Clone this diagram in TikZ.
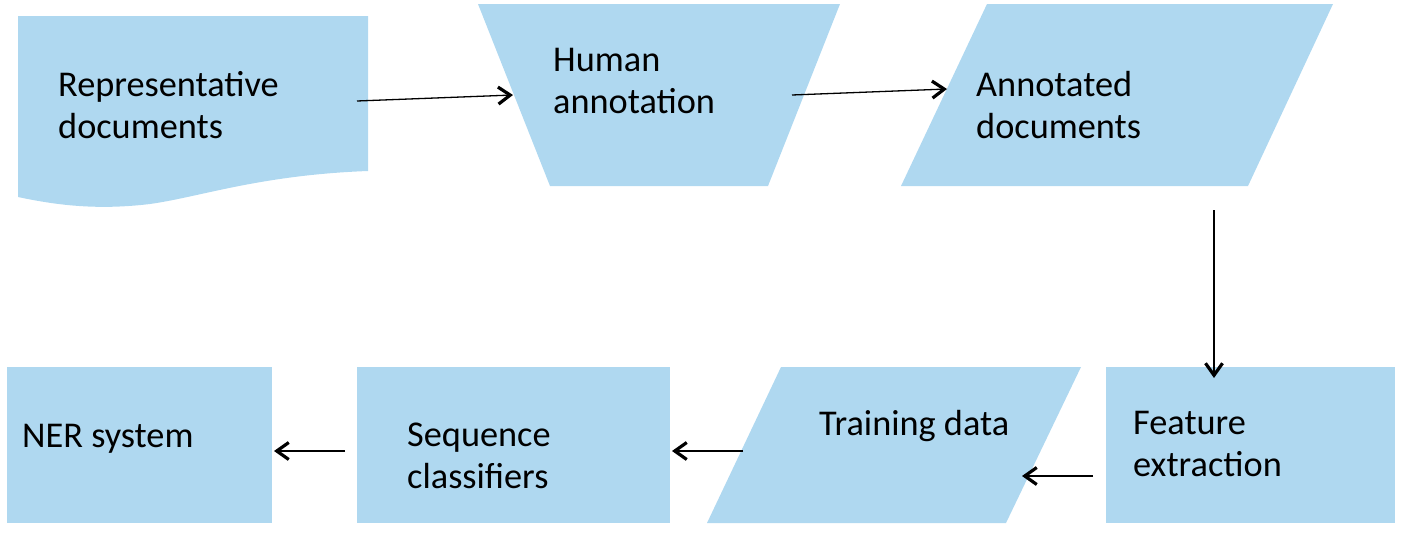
\documentclass[tikz,border=0pt]{standalone}
\usepackage{fontspec}
\setmainfont{Carlito}
\usetikzlibrary{arrows.meta}
\definecolor{boxblue}{RGB}{175,216,240}
\tikzset{
  shapefill/.style={fill=boxblue,draw=none},
  lbl/.style={inner sep=0pt,anchor=base west,align=left,font=\fontsize{36.3}{42}\selectfont},
  conn/.style={line width=1.3pt,-{Straight Barb[length=12pt,width=17pt,line width=3.2pt]}}
}
\begin{document}
\begin{tikzpicture}[x=1pt,y=-1pt]
\useasboundingbox (0,0) rectangle (1406,533);
% shapes
\fill[shapefill] (18,16) -- (368,16) -- (368,171) .. controls (260,175) and (200,197) .. (150,204) .. controls (100,210) and (60,206) .. (18,197) -- cycle;
\fill[shapefill] (478,4) -- (840,4) -- (768,186) -- (550,186) -- cycle;
\fill[shapefill] (987,4) -- (1333,4) -- (1248,186) -- (901,186) -- cycle;
\fill[shapefill] (1106,367) rectangle (1395,523);
\fill[shapefill] (781,367) -- (1081,367) -- (1006,523) -- (707,523) -- cycle;
\fill[shapefill] (357,367) rectangle (670,523);
\fill[shapefill] (7,367) rectangle (272,523);
% labels (base = baseline of last line)
\node[lbl] (rep) at (58,138) {Representative\\documents};
\node[lbl] (hum) at (553,113) {Human\\annotation};
\node[lbl] (ann) at (976,138) {Annotated\\documents};
\node[lbl] (fea) at (1133,476) {Feature\\extraction};
\node[lbl] (tra) at (819,435) {Training data};
\node[lbl] (seq) at (407,488) {Sequence\\classifiers};
\node[lbl] (ner) at (22,447) {NER system};
% connector ends
\coordinate (a1s) at (357,101); \coordinate (a1e) at (513,95);
\coordinate (a2s) at (792,95);  \coordinate (a2e) at (947,89);
\coordinate (a3s) at (1214,210); \coordinate (a3e) at (1214,378);
\coordinate (a4s) at (1093,476); \coordinate (a4e) at (1022,476);
\coordinate (a5s) at (743,451);  \coordinate (a5e) at (672,451);
\coordinate (a6s) at (345,451);  \coordinate (a6e) at (274,451);
\draw[conn] (a1s) -- (a1e);
\draw[conn] (a2s) -- (a2e);
\draw[conn] (a3s) -- (a3e);
\draw[conn] (a4s) -- (a4e);
\draw[conn] (a5s) -- (a5e);
\draw[conn] (a6s) -- (a6e);
\end{tikzpicture}
\end{document}
